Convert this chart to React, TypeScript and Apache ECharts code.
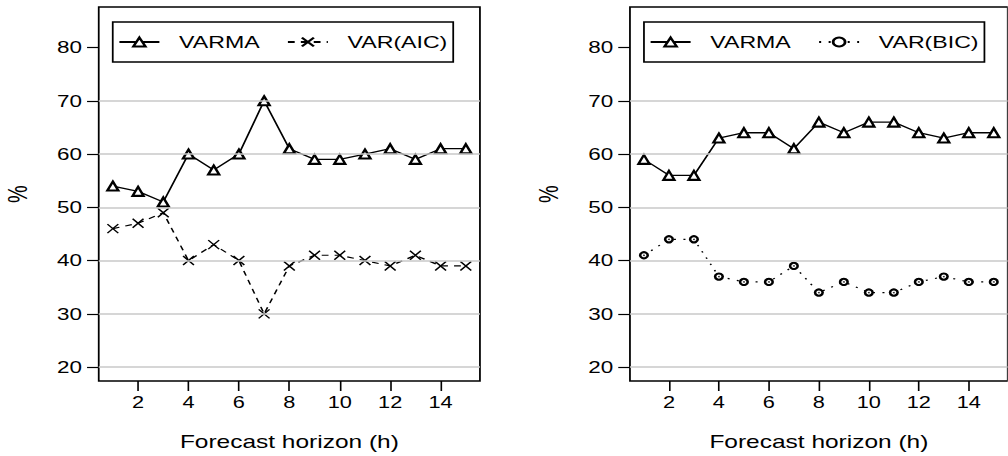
import React, { useEffect, useRef } from "react";
import * as echarts from "echarts";

const horizons = [1, 2, 3, 4, 5, 6, 7, 8, 9, 10, 11, 12, 13, 14, 15];
const varmaLeft = [54, 53, 51, 60, 57, 60, 70, 61, 59, 59, 60, 61, 59, 61, 61];
const varAIC = [46, 47, 49, 40, 43, 40, 30, 39, 41, 41, 40, 39, 41, 39, 39];
const varmaRight = [59, 56, 56, 63, 64, 64, 61, 66, 64, 66, 66, 64, 63, 64, 64];
const varBIC = [41, 44, 44, 37, 36, 36, 39, 34, 36, 34, 34, 36, 37, 36, 36];
const xTicks = [2, 4, 6, 8, 10, 12, 14];
const yTicks = [20, 30, 40, 50, 60, 70, 80];
const gridValues = [20, 30, 40, 50, 60, 70];

const S = 1.36;
const W = 1008 / S;
const FONT = "Liberation Sans";

const pairs = (ys: number[]) => horizons.map((h, i) => [h, ys[i]]);

function App() {
  const ref = useRef<HTMLDivElement>(null);
  useEffect(() => {
    if (!ref.current) return;
    const chart = echarts.init(ref.current, null, { renderer: "svg" });
    const gridLeft = [72.6, 463.2];
    const gridW = 280.3;
    const legendLeft = [82.9, 473.5];

    const xAxis = [0, 1].map((i) => ({
      type: "value",
      gridIndex: i,
      min: 0.44,
      max: 15.56,
      axisLine: { show: false, onZero: false },
      axisTick: {
        show: true,
        length: 10,
        customValues: xTicks,
        lineStyle: { color: "#000", width: 1.2 },
      },
      axisLabel: {
        customValues: xTicks,
        margin: 14,
        fontSize: 16,
        color: "#000",
        fontFamily: FONT,
      },
      splitLine: { show: false },
      name: "Forecast horizon (h)",
      nameLocation: "middle",
      nameGap: 52,
      nameTextStyle: { fontSize: 18, color: "#000", fontFamily: FONT },
    }));
    const yAxis = [0, 1].map((i) => ({
      type: "value",
      gridIndex: i,
      min: 17.4,
      max: 87.6,
      axisLine: { show: false, onZero: false },
      axisTick: {
        show: true,
        length: 8.6,
        customValues: yTicks,
        lineStyle: { color: "#000", width: 1.2 },
      },
      axisLabel: {
        customValues: yTicks,
        margin: 12.3,
        fontSize: 16.5,
        color: "#000",
        fontFamily: FONT,
      },
      splitLine: { show: false },
      name: "%",
      nameLocation: "middle",
      nameRotate: 90,
      nameGap: 50,
      nameTextStyle: { fontSize: 20, color: "#000", fontFamily: FONT },
    }));

    const gridSeries = (i: number) => ({
      type: "line",
      name: "grid" + i,
      xAxisIndex: i,
      yAxisIndex: i,
      data: [],
      z: 1,
      silent: true,
      markLine: {
        silent: true,
        symbol: ["none", "none"],
        label: { show: false },
        lineStyle: { color: "#c8c8c8", width: 1.5, type: "solid" },
        data: gridValues.map((v) => ({ yAxis: v })),
      },
    });
    const varmaSeries = (i: number, ys: number[]) => ({
      type: "line",
      name: "VARMA",
      xAxisIndex: i,
      yAxisIndex: i,
      data: pairs(ys),
      z: 3,
      symbol: "emptyTriangle",
      symbolSize: [8, 9],
      lineStyle: { color: "#000", width: 1.3, type: "solid" },
      itemStyle: { color: "#000", borderColor: "#000", borderWidth: 1.2 },
    });

    chart.setOption({
      animation: false,
      backgroundColor: "#fff",
      textStyle: { fontFamily: FONT },
      grid: gridLeft.map((l) => ({
        left: l,
        top: 7,
        width: gridW,
        height: 374,
        show: true,
        borderColor: "#000",
        borderWidth: 1.3,
        backgroundColor: "transparent",
        containLabel: false,
      })),
      xAxis,
      yAxis,
      legend: [
        ["VARMA", "VAR(AIC)"],
        ["VARMA", "VAR(BIC)"],
      ].map((d, i) => ({
        data: d,
        left: legendLeft[i],
        top: 22,
        orient: "horizontal",
        selectedMode: false,
        itemWidth: 29.4,
        itemHeight: 11,
        itemGap: 19.8,
        padding: [11.5, 4.3, 11.5, 3.9],
        borderColor: "#000",
        borderWidth: 1.3,
        backgroundColor: "#fff",
        textStyle: {
          fontSize: 17,
          color: "#000",
          fontFamily: FONT,
          padding: [0, 0, 0, 9.5],
        },
      })),
      series: [
        gridSeries(0),
        gridSeries(1),
        varmaSeries(0, varmaLeft),
        {
          type: "line",
          name: "VAR(AIC)",
          xAxisIndex: 0,
          yAxisIndex: 0,
          data: pairs(varAIC),
          z: 3,
          symbol: "path://M0,0L10,10M10,0L0,10",
          symbolSize: [8, 9],
          lineStyle: { color: "#000", width: 1.2, type: [5, 4.5] },
          itemStyle: { color: "#000", borderColor: "#000", borderWidth: 1.3 },
        },
        varmaSeries(1, varmaRight),
        {
          type: "line",
          name: "VAR(BIC)",
          xAxisIndex: 1,
          yAxisIndex: 1,
          data: pairs(varBIC),
          z: 3,
          symbol: "emptyCircle",
          symbolSize: [5.6, 6.2],
          lineStyle: { color: "#000", width: 1.2, type: [1.5, 5.5] },
          itemStyle: { color: "#000", borderColor: "#000", borderWidth: 1.1 },
        },
        {
          type: "scatter",
          name: "VAR(BIC) centre",
          xAxisIndex: 1,
          yAxisIndex: 1,
          data: pairs(varBIC),
          z: 4,
          symbol: "circle",
          symbolSize: 1.5,
          itemStyle: { color: "#000" },
        },
      ],
    });
    return () => chart.dispose();
  }, []);

  return (
    <div
      ref={ref}
      style={{
        position: "absolute",
        left: 0,
        top: 0,
        width: W + "px",
        height: "456px",
        transform: `scaleX(${S})`,
        transformOrigin: "0 0",
        background: "#fff",
      }}
    />
  );
}

export default App;
